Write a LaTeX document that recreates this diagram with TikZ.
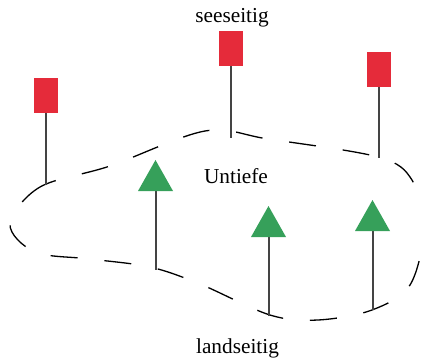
\documentclass[tikz,border=0pt]{standalone}
\usepackage{fontspec}
\setmainfont{Liberation Serif}
\definecolor{flagred}{HTML}{E52B3A}
\definecolor{markgreen}{HTML}{36A05A}
\definecolor{polegray}{HTML}{444444}
\begin{document}
\begin{tikzpicture}[x=1pt,y=-1pt,
  flag/.style={fill=flagred, draw=none, minimum width=24pt, minimum height=35pt, inner sep=0pt},
  pole/.style={draw=polegray, line width=2pt},
  tri/.style={fill=markgreen, draw=none},
  lbl/.style={font=\fontsize{21.3}{24}\selectfont, anchor=base, inner sep=0pt},
  shoal/.style={draw=black, line width=1.3pt, dash pattern=on 27pt off 27pt, dash phase=10pt}]
\useasboundingbox (0,0) rectangle (421,361);
\begin{scope}
\clip (0,0) rectangle (421,361);
\draw[shoal] plot[smooth cycle, tension=0.55] coordinates {
 (10,224) (40,187) (110,166) (205,131) (268,139) (378,157) (412,180)
 (424,228) (410,285) (372,310) (318,320) (270,315) (200,284) (150,267)
 (90,259) (35,252)};
\end{scope}
% text
\node[lbl] (see) at (232,22.5) {seeseitig};
\node[lbl] (untiefe) at (236,183) {Untiefe};
\node[lbl] (land) at (237.5,353) {landseitig};
% red flags
\node[flag] (f1) at (46,95.5) {};
\node[flag] (f2) at (231,48.5) {};
\node[flag] (f3) at (379,69.5) {};
\coordinate (e1) at (46,185);
\coordinate (e2) at (231,138);
\coordinate (e3) at (379,158);
\draw[pole] (f1.south) -- (e1);
\draw[pole] (f2.south) -- (e2);
\draw[pole] (f3.south) -- (e3);
% green marks
\coordinate (t1) at (155.5,160);
\coordinate (t2) at (268.5,206);
\coordinate (t3) at (372.5,200);
\coordinate (b1) at (155.5,270);
\coordinate (b2) at (268.5,316);
\coordinate (b3) at (372.5,310);
\draw[pole] ([yshift=-30pt]t1) -- (b1);
\draw[pole] ([yshift=-30pt]t2) -- (b2);
\draw[pole] ([yshift=-30pt]t3) -- (b3);
\fill[tri] (t1) -- ++(-17.5,31) -- ++(35,0) -- cycle;
\fill[tri] (t2) -- ++(-17.5,31) -- ++(35,0) -- cycle;
\fill[tri] (t3) -- ++(-17.5,31) -- ++(35,0) -- cycle;
\end{tikzpicture}
\end{document}
